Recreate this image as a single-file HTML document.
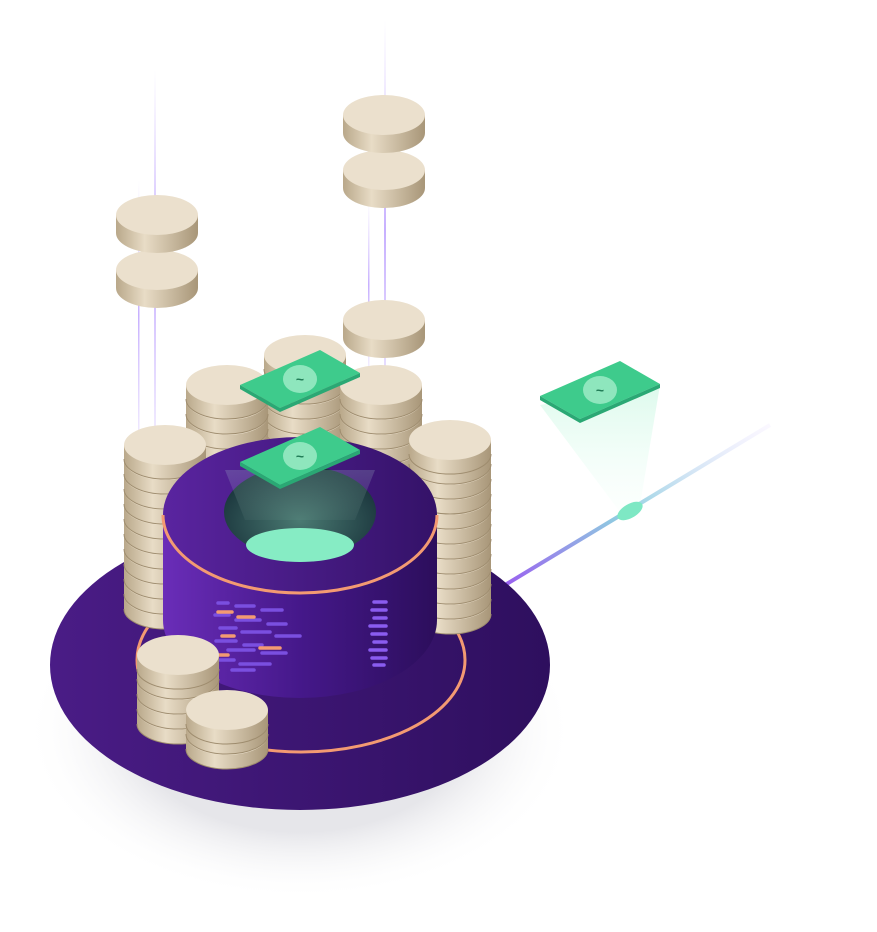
<!DOCTYPE html>
<html><head><meta charset="utf-8"><style>html,body{margin:0;padding:0;background:#fff}svg{display:block}</style></head>
<body>
<svg width="877" height="932" viewBox="0 0 877 932" xmlns="http://www.w3.org/2000/svg">
<defs>
<radialGradient id="sh" cx="50%" cy="50%" r="50%"><stop offset="0.6" stop-color="#e6e6ea"/><stop offset="1" stop-color="#fff" stop-opacity="0"/></radialGradient>
<linearGradient id="base" x1="0" x2="1"><stop offset="0" stop-color="#4a1c86"/><stop offset="1" stop-color="#2e0f5e"/></linearGradient>
<linearGradient id="cyl" x1="0" x2="1"><stop offset="0" stop-color="#6a2db8"/><stop offset="0.5" stop-color="#45188a"/><stop offset="1" stop-color="#2c0e5c"/></linearGradient>
<linearGradient id="cylTop" x1="0" x2="1"><stop offset="0" stop-color="#5a24a0"/><stop offset="1" stop-color="#341268"/></linearGradient>
<linearGradient id="coinSide" x1="0" x2="1"><stop offset="0" stop-color="#b9a88a"/><stop offset="0.35" stop-color="#e8dcc6"/><stop offset="1" stop-color="#a89678"/></linearGradient>
<linearGradient id="line" x1="0" y1="1" x2="1" y2="0"><stop offset="0" stop-color="#9a5cf0"/><stop offset="0.45" stop-color="#8fd0e0"/><stop offset="1" stop-color="#e8dcff" stop-opacity="0.2"/></linearGradient>
<linearGradient id="beam" x1="0" y1="0" x2="0" y2="1"><stop offset="0" stop-color="#bff5dc" stop-opacity="0.9"/><stop offset="1" stop-color="#e8fff4" stop-opacity="0.2"/></linearGradient>
<linearGradient id="vl" x1="0" y1="0" x2="0" y2="1"><stop offset="0" stop-color="#d8c8ff" stop-opacity="0"/><stop offset="0.5" stop-color="#c7b0ff"/><stop offset="1" stop-color="#d8c8ff" stop-opacity="0.3"/></linearGradient>
<radialGradient id="hole" cx="50%" cy="60%" r="60%"><stop offset="0" stop-color="#4a7a72"/><stop offset="1" stop-color="#18323a"/></radialGradient>
<g id="coin"><path d="M-41 0 v14 a41 20 0 0 0 82 0 v-14z" fill="url(#coinSide)"/><path d="M-41 14 a41 20 0 0 0 82 0" fill="none" stroke="#9e8c6e" stroke-width="1"/><ellipse rx="41" ry="20" fill="#ebe0cd"/></g>
<g id="coinF"><path d="M-41 0 v18 a41 20 0 0 0 82 0 v-18z" fill="url(#coinSide)"/><ellipse rx="41" ry="20" fill="#ebe0cd"/></g>
<g id="bill"><polygon points="-60,0 20,-35 60,-12 -20,23" fill="#3ecb8c"/><polygon points="-60,0 -20,23 60,-12 60,-8 -20,27 -60,4" fill="#2aa874"/><ellipse cx="0" cy="-6" rx="17" ry="14" fill="#8ee6bd"/><text x="0" y="-1" font-family="Liberation Sans,sans-serif" font-size="14" font-weight="bold" fill="#1f7a55" text-anchor="middle">~</text></g>
</defs>
<rect x="154" y="70" width="2" height="380" fill="url(#vl)"/>
<rect x="138" y="180" width="1.5" height="270" fill="url(#vl)"/>
<rect x="384" y="20" width="2" height="420" fill="url(#vl)"/>
<rect x="368" y="200" width="1.5" height="170" fill="url(#vl)"/>
<ellipse cx="300" cy="730" rx="275" ry="170" fill="url(#sh)"/>
<line x1="500" y1="588" x2="770" y2="425" stroke="url(#line)" stroke-width="4"/>
<polygon points="540,405 660,385 640,505 620,512" fill="url(#beam)" opacity="0.6"/>
<ellipse cx="630" cy="511" rx="14" ry="7" fill="#7ee8c4" transform="rotate(-30 630 511)"/>
<use href="#bill" x="600" y="396"/>
<ellipse cx="300" cy="665" rx="250" ry="145" fill="url(#base)"/>
<ellipse cx="301" cy="660" rx="164" ry="92" fill="none" stroke="#f39a72" stroke-width="3"/>
<use href="#coinF" x="157" y="270"/><use href="#coinF" x="157" y="215"/>
<use href="#coinF" x="384" y="170"/><use href="#coinF" x="384" y="115"/>
<use href="#coinF" x="384" y="320"/>
<g>
<use href="#coin" x="305" y="460"/><use href="#coin" x="305" y="445"/><use href="#coin" x="305" y="430"/><use href="#coin" x="305" y="415"/><use href="#coin" x="305" y="400"/><use href="#coin" x="305" y="385"/><use href="#coin" x="305" y="370"/><use href="#coin" x="305" y="355"/>
<use href="#coin" x="227" y="460"/><use href="#coin" x="227" y="445"/><use href="#coin" x="227" y="430"/><use href="#coin" x="227" y="415"/><use href="#coin" x="227" y="400"/><use href="#coin" x="227" y="385"/>
<use href="#coin" x="381" y="460"/><use href="#coin" x="381" y="445"/><use href="#coin" x="381" y="430"/><use href="#coin" x="381" y="415"/><use href="#coin" x="381" y="400"/><use href="#coin" x="381" y="385"/>
</g>
<use href="#bill" x="300" y="385"/>
<g>
<use href="#coin" x="165" y="595"/><use href="#coin" x="165" y="580"/><use href="#coin" x="165" y="565"/><use href="#coin" x="165" y="550"/><use href="#coin" x="165" y="535"/><use href="#coin" x="165" y="520"/><use href="#coin" x="165" y="505"/><use href="#coin" x="165" y="490"/><use href="#coin" x="165" y="475"/><use href="#coin" x="165" y="460"/><use href="#coin" x="165" y="445"/>
<use href="#coin" x="450" y="600"/><use href="#coin" x="450" y="585"/><use href="#coin" x="450" y="570"/><use href="#coin" x="450" y="555"/><use href="#coin" x="450" y="540"/><use href="#coin" x="450" y="525"/><use href="#coin" x="450" y="510"/><use href="#coin" x="450" y="495"/><use href="#coin" x="450" y="480"/><use href="#coin" x="450" y="465"/><use href="#coin" x="450" y="450"/><use href="#coin" x="450" y="440"/>
</g>
<path d="M163 515 V620 A137 78 0 0 0 437 620 V515z" fill="url(#cyl)"/>
<ellipse cx="300" cy="515" rx="137" ry="78" fill="url(#cylTop)"/>
<path d="M163 515 A137 78 0 0 0 437 515" fill="none" stroke="#f39a72" stroke-width="3"/>
<ellipse cx="300" cy="512" rx="76" ry="46" fill="url(#hole)"/>
<ellipse cx="300" cy="545" rx="54" ry="17" fill="#86ecc4"/>
<polygon points="225,470 375,470 355,520 245,520" fill="url(#beam)" opacity="0.2"/>
<use href="#bill" x="300" y="462"/>
<g stroke-width="3.5" stroke-linecap="round">
<path d="M218 603h10M236 606h18M262 610h20M215 615h14M236 620h24M268 624h18M220 628h16M242 632h28M276 636h24M216 641h20M244 645h18M228 650h26M262 653h24M220 660h14M240 664h30M232 670h22" stroke="#7a4fe0"/>
<path d="M218 612h14M238 617h16M222 636h12M260 648h20M216 655h12" stroke="#f39a72"/>
<path d="M374 602h12M372 610h14M374 618h12M370 626h16M372 634h14M374 642h12M370 650h16M372 658h14M374 665h10" stroke="#8a5cf0"/>
</g>
<use href="#coin" x="178" y="710"/><use href="#coin" x="178" y="695"/><use href="#coin" x="178" y="680"/><use href="#coin" x="178" y="665"/><use href="#coin" x="178" y="655"/>
<use href="#coin" x="227" y="735"/><use href="#coin" x="227" y="720"/><use href="#coin" x="227" y="710"/>
</svg>
</body></html>
